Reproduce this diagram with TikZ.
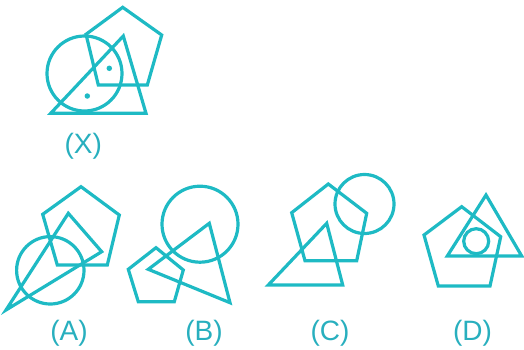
\documentclass[tikz,border=0pt]{standalone}
\usepackage{fontspec}
\setmainfont{Liberation Sans}
\definecolor{teal1}{RGB}{30,186,196}
\definecolor{tealtext}{RGB}{40,175,190}
\begin{document}
\begin{tikzpicture}[x=1pt,y=-1pt,
  shp/.style={draw=teal1,line width=3.2pt,line join=miter},
  lbl/.style={text=tealtext,font=\fontsize{28}{30}\selectfont,anchor=base,inner sep=0pt},
  dotm/.style={fill=teal1,circle,inner sep=0pt,minimum size=5.5pt}]
\useasboundingbox (0,0) rectangle (524,349);
% ---------- X ----------
\draw[shp] (122.7,7.3) -- (161.7,35) -- (147.3,85) -- (98.3,85) -- (86,34.3) -- cycle;
\draw[shp] (84.5,73.5) circle (37.5);
\draw[shp] (123.3,36) -- (146,113.3) -- (50.7,113.3) -- cycle;
\node[dotm] (d1) at (109.3,68.3) {};
\node[dotm] (d2) at (87.3,96) {};
\node[lbl] (lx) at (83.3,153.3) {(X)};
% ---------- A ----------
\draw[shp] (81,186.7) -- (119.3,215) -- (107.3,265) -- (57.3,265) -- (42.7,214.3) -- cycle;
\draw[shp] (68.3,213.3) -- (101.7,251.7) -- (6,310) -- cycle;
\draw[shp] (50.3,270.3) circle (33.7);
\node[lbl] (la) at (69,340) {(A)};
% ---------- B ----------
\draw[shp] (200,224.2) circle (38);
\draw[shp] (209.3,223.3) -- (230,302.7) -- (148.3,269.3) -- cycle;
\draw[shp] (156,247.7) -- (183.3,270) -- (174.3,301.7) -- (138.3,301.7) -- (128.3,269.3) -- cycle;
\node[lbl] (lb) at (204,340) {(B)};
% ---------- C ----------
\draw[shp] (328.3,184) -- (366.7,213.3) -- (356.7,260.7) -- (305,260.7) -- (291.7,212.7) -- cycle;
\draw[shp] (364.5,204) circle (29.5);
\draw[shp] (326.7,223.3) -- (342.7,285) -- (268.3,285) -- cycle;
\node[lbl] (lc) at (330,340) {(C)};
% ---------- D ----------
\draw[shp] (461.7,206.7) -- (500.7,236.7) -- (490,286) -- (438.3,286) -- (424,235) -- cycle;
\draw[shp] (486,195) -- (521.7,256) -- (447.3,256) -- cycle;
\draw[shp] (476.2,241.2) circle (12.5);
\node[lbl] (ld) at (472.5,340) {(D)};
\end{tikzpicture}
\end{document}
